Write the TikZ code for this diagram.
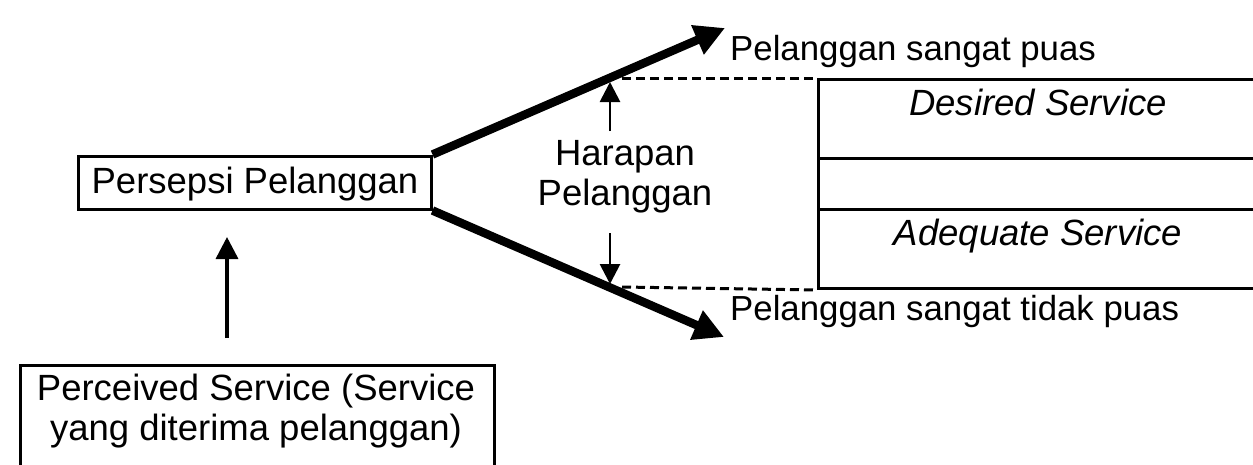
\documentclass[tikz,border=0pt]{standalone}
\usepackage{fontspec}
\setmainfont{Liberation Sans}
\usetikzlibrary{arrows.meta}
\begin{document}
\begin{tikzpicture}[x=1pt,y=-1pt,
  txt/.style={font=\fontsize{36.5}{40}\selectfont, inner sep=0pt},
  lbl/.style={font=\fontsize{34.8}{40}\selectfont, inner sep=0pt, anchor=base west},
  box/.style={draw, line width=3pt, inner sep=0pt},
  thick arrow/.style={line width=8.5pt, -{Triangle[length=30pt,width=30pt]}},
  thin arrow/.style={line width=2.8pt, -{Triangle[length=20pt,width=20pt]}},
  dashline/.style={line width=3pt, dash pattern=on 9pt off 5pt}]
\useasboundingbox (0,0) rectangle (1253,464);
\fill[white] (0,0) rectangle (1253,464);
\clip (0,0) rectangle (1253,464);

% Left boxes
\node[box, minimum width=353pt, minimum height=53pt] (pers) at (254.5,182.5) {};
\node[txt, anchor=base] (perstxt) at (255,193) {Persepsi Pelanggan};

\node[box, anchor=north west, minimum width=474pt, minimum height=130pt] (perc) at (19,364) {};
\node[txt, anchor=base] (perc1) at (256,400) {Perceived Service (Service};
\node[txt, anchor=base] (perc2) at (256,440) {yang diterima pelanggan)};

\coordinate (upstart) at (227,338);
\coordinate (uptip) at (227,237);
\draw[line width=3.5pt, -{Triangle[length=22pt,width=22pt]}] (upstart) -- (uptip);

% Right box
\node[box, anchor=north west, minimum width=460pt, minimum height=79pt] (des) at (817,78) {};
\node[box, anchor=north west, minimum width=460pt, minimum height=51pt] (mid) at (817,157) {};
\node[box, anchor=north west, minimum width=460pt, minimum height=79pt] (adq) at (817,208) {};
\node[txt, anchor=base] (destxt) at (1038,115) {\itshape Desired Service};
\node[txt, anchor=base] (adqtxt) at (1038,245) {\itshape Adequate Service};

% Thick arrows
\coordinate (hi) at (725,28);
\coordinate (lo) at (724,337);
\draw[thick arrow] (pers.north east) -- (hi);
\draw[thick arrow] (pers.south east) -- (lo);

% Dashed lines
\coordinate (dhi) at (622,78);
\coordinate (dlo) at (622,287);
\draw[dashline] (dhi) -- (des.north west);
\draw[dashline] (dlo) -- (adq.south west);

% Harapan
\node[txt, anchor=base] (har1) at (625,165) {Harapan};
\node[txt, anchor=base] (har2) at (625,205) {Pelanggan};
\coordinate (a1s) at (610,131);
\coordinate (a1t) at (610,82);
\coordinate (a2s) at (610,233);
\coordinate (a2t) at (610,284);
\draw[thin arrow] (a1s) -- (a1t);
\draw[thin arrow] (a2s) -- (a2t);

% Labels
\node[lbl] (puas) at (730,60) {Pelanggan sangat puas};
\node[lbl] (tpuas) at (730,320) {Pelanggan sangat tidak puas};
\end{tikzpicture}
\end{document}
